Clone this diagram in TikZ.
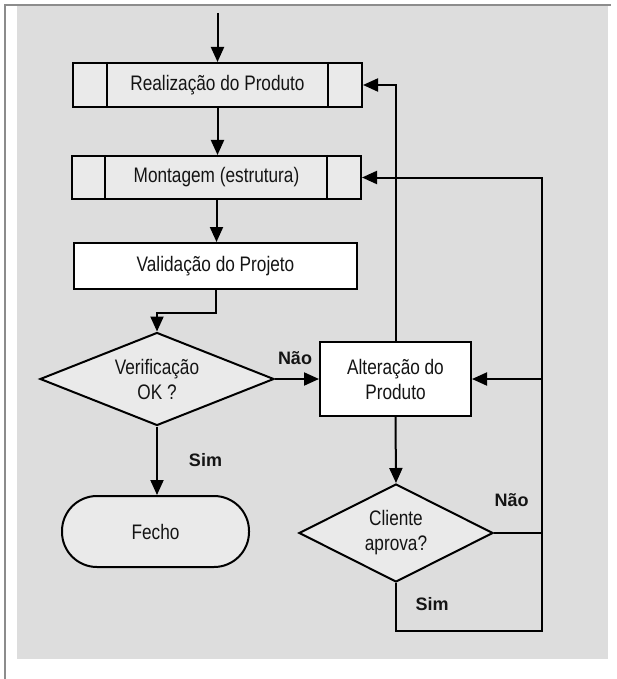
\documentclass[tikz,border=0pt]{standalone}
\usepackage{fontspec}
\setmainfont{Liberation Sans}
\newfontfamily\narrowfont[FakeStretch=0.82]{Liberation Sans}
\usetikzlibrary{arrows.meta,shapes.geometric}
\definecolor{bgray}{HTML}{DDDDDD}
\definecolor{fgray}{HTML}{EAEAEA}
\definecolor{framegray}{HTML}{8C8C8C}
\definecolor{txt}{HTML}{141414}
\begin{document}
\begin{tikzpicture}[x=1pt,y=-1pt,
  every node/.style={text=txt, inner sep=0pt},
  lbl/.style={font=\narrowfont\fontsize{21}{25}\selectfont, align=center},
  proc/.style={lbl, draw=black, line width=2pt, rectangle},
  dec/.style={lbl, diamond, draw=black, line width=2pt, fill=fgray, aspect=2.5},
  term/.style={lbl, draw=black, line width=2pt, fill=fgray, rectangle, rounded corners=35pt},
  conn/.style={line width=2pt, -{Triangle[length=15pt,width=13pt]}},
  plain/.style={line width=2pt},
  yn/.style={font=\bfseries\fontsize{18}{20}\selectfont}
]
\useasboundingbox (0,0) rectangle (616,679);
\fill[white] (0,0) rectangle (616,679);
\fill[bgray] (17,6) rectangle (608,659);
\draw[framegray, line width=1.5pt] (5,679) -- (5,5) -- (611,5);

\node[proc, fill=fgray, minimum width=289pt, minimum height=44pt] (b1) at (217.5,85) {Realização do Produto};
\draw[plain] ([xshift=35pt]b1.north west) -- ([xshift=35pt]b1.south west);
\draw[plain] ([xshift=-35pt]b1.north east) -- ([xshift=-35pt]b1.south east);

\node[proc, fill=fgray, minimum width=289pt, minimum height=43pt] (b2) at (216.5,177.5) {Montagem (estrutura)};
\draw[plain] ([xshift=34pt]b2.north west) -- ([xshift=34pt]b2.south west);
\draw[plain] ([xshift=-35pt]b2.north east) -- ([xshift=-35pt]b2.south east);

\node[proc, fill=white, minimum width=283pt, minimum height=46pt] (val) at (215.5,266) {Validação do Projeto};
\node[dec, minimum width=234pt, minimum height=93pt] (ver) at (157,379) {Verificação\\OK ?};
\node[proc, fill=white, minimum width=151pt, minimum height=74pt] (alt) at (395.5,379) {Alteração do\\Produto};
\node[dec, minimum width=194pt, minimum height=98pt] (cli) at (396,533) {Cliente\\aprova?};
\node[term, minimum width=187pt, minimum height=71pt] (fim) at (155.5,531.5) {Fecho};

\coordinate (start) at (217.5,13);
\coordinate (loopc) at (542,631);

\draw[conn] (start) -- (b1.north);
\draw[conn] (b1.south) -- (b1.south |- b2.north);
\draw[conn] (b2.south) -- (b2.south |- val.north);
\draw[conn] (val.south) -- ++(0,23) -| (ver.north);
\draw[conn] (ver.east) -- (alt.west);
\draw[conn] (ver.south) -- (ver.south |- fim.north);
\draw[conn] (alt.south) -- (cli.north);
\draw[conn] (alt.north) |- (b1.east);
\draw[conn] (cli.south) |- (loopc) |- (b2.east);
\draw[plain] (cli.east) -- (cli.east -| loopc);
\draw[conn] (alt.east -| loopc) -- (alt.east);

\node[yn] (n1) at (295,358) {Não};
\node[yn] (s1) at (205.5,460) {Sim};
\node[yn] (n2) at (511.5,500) {Não};
\node[yn] (s2) at (432,604) {Sim};
\end{tikzpicture}
\end{document}
